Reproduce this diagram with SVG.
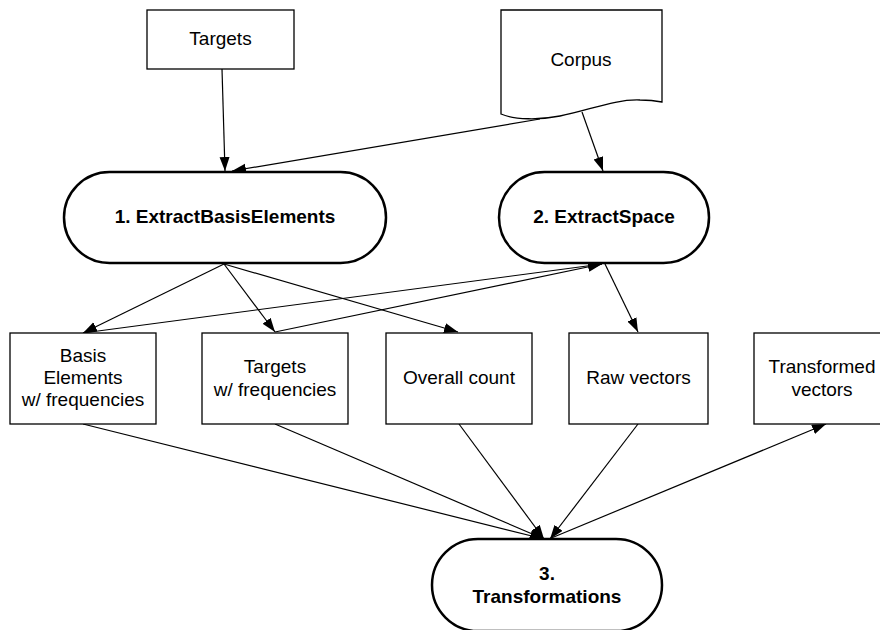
<svg xmlns="http://www.w3.org/2000/svg" width="880" height="630" viewBox="0 0 880 630">
<defs>
<marker id="arr" markerUnits="userSpaceOnUse" markerWidth="15" markerHeight="11" refX="14" refY="5" orient="auto">
<path d="M0,0 L14,5 L0,10 z" fill="#000"/>
</marker>
<style>
.box{fill:#fff;stroke:#000;stroke-width:1.3}
.proc{fill:#fff;stroke:#000;stroke-width:2.5}
.t{font-family:"Liberation Sans",Arial,sans-serif;font-size:19px;fill:#000;text-anchor:middle}
.b{font-weight:bold}
.e{fill:none;stroke:#000;stroke-width:1.2}
.a{marker-end:url(#arr)}
</style>
</defs>
<rect width="880" height="630" fill="#fff"/>
<g id="connectors">
<line class="e a" x1="222" y1="69" x2="225" y2="171"/>
<line class="e a" x1="540" y1="119" x2="232" y2="171"/>
<line class="e a" x1="582" y1="112" x2="603" y2="171"/>
<line class="e a" x1="224" y1="264" x2="83" y2="333"/>
<line class="e a" x1="224" y1="264" x2="275" y2="332"/>
<line class="e a" x1="224" y1="264" x2="458" y2="332"/>
<line class="e a" x1="83" y1="333" x2="602" y2="264"/>
<line class="e a" x1="275" y1="332" x2="602" y2="264"/>
<line class="e a" x1="605" y1="264" x2="638" y2="332"/>
<line class="e a" x1="83" y1="424" x2="544" y2="539"/>
<line class="e a" x1="275" y1="424" x2="544" y2="539"/>
<line class="e a" x1="459" y1="424" x2="544" y2="539"/>
<line class="e a" x1="638" y1="424" x2="550" y2="539"/>
<line class="e a" x1="549" y1="539" x2="826" y2="424"/>
</g>
<g id="targets">
<rect class="box" x="147" y="10" width="147" height="59"/>
<text class="t" x="220.5" y="45">Targets</text>
</g>
<g id="corpus">
<path class="box" d="M501,10 H662 V102 C657,101 650,100 640,100 C615,99 590,110 560,116 C540,120 515,120 501,114 Z"/>
<text class="t" x="581" y="66">Corpus</text>
</g>
<g id="extractBasis">
<rect class="proc" x="64" y="172" width="322" height="91" rx="45.5"/>
<text class="t b" x="225" y="223">1. ExtractBasisElements</text>
</g>
<g id="extractSpace">
<rect class="proc" x="499" y="172" width="210" height="91" rx="45.5"/>
<text class="t b" x="604" y="223">2. ExtractSpace</text>
</g>
<g id="basisElements">
<rect class="box" x="10" y="333" width="146" height="91"/>
<text class="t" x="83" y="362">Basis</text>
<text class="t" x="83" y="384">Elements</text>
<text class="t" x="83" y="406">w/ frequencies</text>
</g>
<g id="targetsFreq">
<rect class="box" x="202" y="333" width="146" height="91"/>
<text class="t" x="275" y="373">Targets</text>
<text class="t" x="275" y="396">w/ frequencies</text>
</g>
<g id="overallCount">
<rect class="box" x="386" y="333" width="146" height="91"/>
<text class="t" x="459" y="384">Overall count</text>
</g>
<g id="rawVectors">
<rect class="box" x="569" y="333" width="139" height="91"/>
<text class="t" x="638.5" y="384">Raw vectors</text>
</g>
<g id="transformedVectors">
<rect class="box" x="754" y="333" width="146" height="91"/>
<text class="t" x="822" y="373">Transformed</text>
<text class="t" x="822" y="396">vectors</text>
</g>
<g id="transformations">
<rect class="proc" x="432" y="539" width="230" height="92" rx="46"/>
<text class="t b" x="547" y="580">3.</text>
<text class="t b" x="547" y="603">Transformations</text>
</g>
</svg>
